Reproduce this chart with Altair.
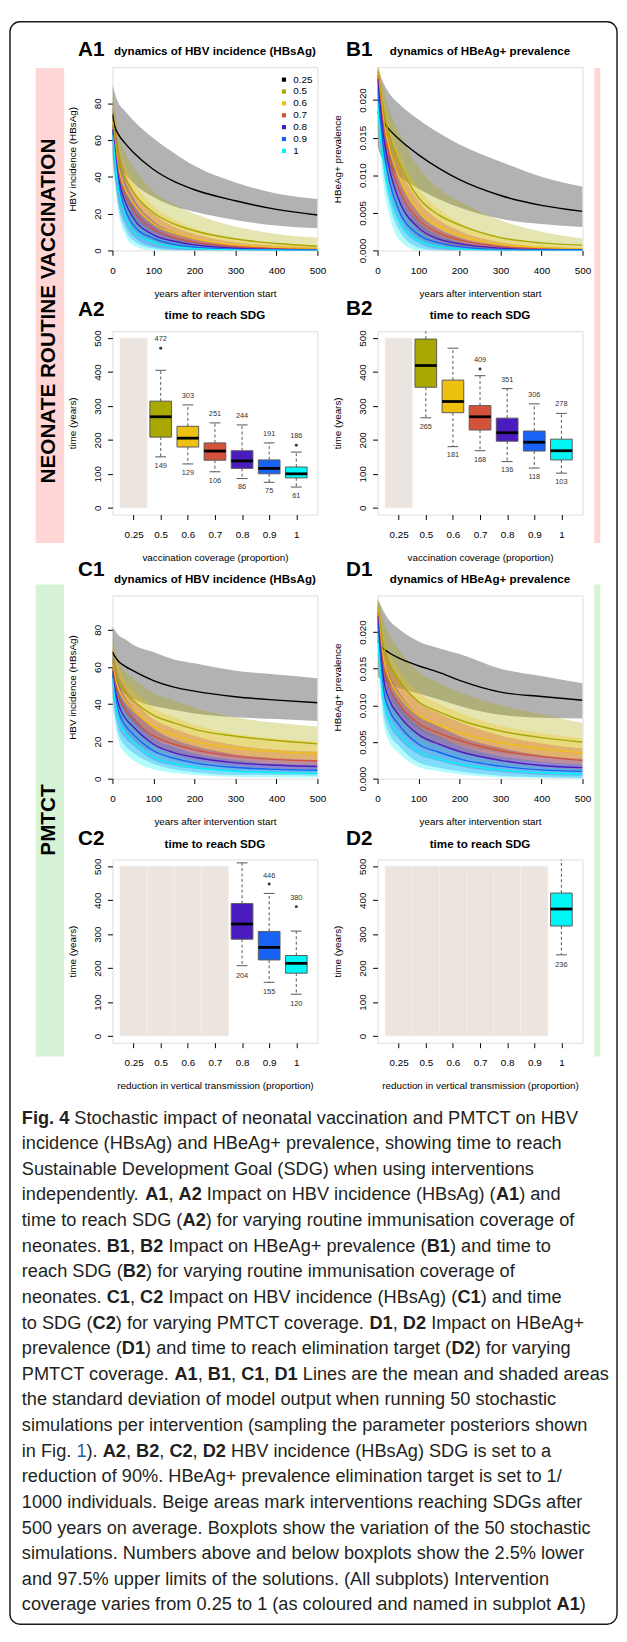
import re
import altair as alt
import pandas as pd

FONT = "Liberation Sans"
COVERAGE = ["0.25", "0.5", "0.6", "0.7", "0.8", "0.9", "1"]
COLORS = ["#000000", "#A8A800", "#EEC010", "#D5523A", "#4A1CC0", "#1862F5", "#00F5F5"]
YEARS = [0, 5, 15, 30, 50, 100, 150, 200, 300, 400, 500]

# ---------------- A1: HBV incidence, neonate vaccination ----------------
A1_MEAN = {
    "0.25": [74, 68, 63, 58.5, 53.5, 44, 37.5, 33, 27, 22.3, 19.3],
    "0.5": [71, 63, 50, 40, 32, 20.5, 14.5, 10.7, 6.2, 3.8, 2.3],
    "0.6": [70, 60, 45, 34, 26, 14.5, 9.5, 6.3, 3, 1.6, 1],
    "0.7": [68, 58, 42, 30, 22, 11.5, 7, 4.5, 2, 1, 0.5],
    "0.8": [66, 56, 39, 27, 18, 8.5, 5, 3, 1.2, 0.5, 0.3],
    "0.9": [65, 54, 36, 23, 14, 6.5, 3.3, 1.8, 0.7, 0.3, 0.15],
    "1": [63, 52, 33, 20, 11, 4.5, 2, 1, 0.3, 0.1, 0.05],
}
A1_HI = {
    "0.25": [90, 86, 80, 76, 71, 61, 53, 46, 37, 31, 28],
    "0.5": [85, 78, 64, 54, 46, 32, 25, 20, 13, 9, 7],
    "0.6": [83, 75, 59, 47, 38, 24, 17, 12, 6.5, 4, 2.8],
    "0.7": [81, 72, 56, 43, 33, 20, 13, 9, 4.5, 2.5, 1.5],
    "0.8": [79, 70, 53, 39, 29, 16, 10, 6.5, 3, 1.3, 0.8],
    "0.9": [78, 68, 50, 35, 25, 13, 7.5, 4.5, 2, 0.9, 0.5],
    "1": [76, 66, 46, 31, 20, 9, 5, 2.8, 1, 0.4, 0.2],
}
A1_LO = {
    "0.25": [60, 54, 48, 42, 37, 29, 24, 21, 16.5, 13.5, 12],
    "0.5": [58, 49, 37, 27, 19, 10, 5.5, 3, 1, 0.3, 0],
    "0.6": [57, 46, 32, 22, 15, 6, 2.5, 1, 0, 0, 0],
    "0.7": [55, 44, 29, 18, 11, 4, 1.5, 0.3, 0, 0, 0],
    "0.8": [53, 42, 26, 15, 8, 2, 0.5, 0, 0, 0, 0],
    "0.9": [52, 40, 23, 12, 5.5, 1, 0, 0, 0, 0, 0],
    "1": [50, 38, 20, 9, 3, 0, 0, 0, 0, 0, 0],
}

# ---------------- B1: HBeAg+ prevalence, neonate vaccination ----------------
B1_MEAN = {
    "0.25": [0.0185, 0.0178, 0.0170, 0.0160, 0.0149, 0.0127, 0.0109, 0.0094, 0.0073, 0.0060, 0.0052],
    "0.5": [0.0238, 0.0220, 0.0185, 0.0150, 0.0120, 0.0070, 0.0047, 0.0034, 0.0017, 0.0010, 0.0007],
    "0.6": [0.0236, 0.0214, 0.0172, 0.0133, 0.0100, 0.0052, 0.0032, 0.0020, 0.0008, 0.0004, 0.0002],
    "0.7": [0.0233, 0.0208, 0.0162, 0.0120, 0.0085, 0.0041, 0.0023, 0.0014, 0.0005, 0.0002, 0.0001],
    "0.8": [0.0228, 0.0200, 0.0150, 0.0106, 0.0070, 0.0030, 0.0015, 0.0009, 0.0003, 0.0001, 0.0001],
    "0.9": [0.0215, 0.0185, 0.0134, 0.0090, 0.0056, 0.0021, 0.0010, 0.0005, 0.0001, 0.0000, 0.0000],
    "1": [0.0197, 0.0165, 0.0115, 0.0072, 0.0042, 0.0013, 0.0005, 0.0002, 0.0000, 0.0000, 0.0000],
}
B1_HI = {
    "0.25": [0.0245, 0.0235, 0.0222, 0.0208, 0.0196, 0.0174, 0.0156, 0.0141, 0.0118, 0.0098, 0.0085],
    "0.5": [0.0245, 0.0240, 0.0215, 0.0185, 0.0160, 0.0110, 0.0082, 0.0065, 0.0040, 0.0025, 0.0016],
    "0.6": [0.0245, 0.0236, 0.0202, 0.0168, 0.0136, 0.0082, 0.0055, 0.0037, 0.0017, 0.0009, 0.0005],
    "0.7": [0.0245, 0.0232, 0.0192, 0.0154, 0.0118, 0.0066, 0.0040, 0.0026, 0.0011, 0.0005, 0.0003],
    "0.8": [0.0242, 0.0225, 0.0180, 0.0138, 0.0100, 0.0050, 0.0028, 0.0017, 0.0007, 0.0003, 0.0002],
    "0.9": [0.0235, 0.0212, 0.0164, 0.0120, 0.0083, 0.0038, 0.0020, 0.0011, 0.0003, 0.0001, 0.0001],
    "1": [0.0220, 0.0192, 0.0145, 0.0100, 0.0068, 0.0027, 0.0012, 0.0005, 0.0001, 0.0000, 0.0000],
}
B1_LO = {
    "0.25": [0.0140, 0.0130, 0.0120, 0.0110, 0.0100, 0.0082, 0.0068, 0.0057, 0.0042, 0.0035, 0.0031],
    "0.5": [0.0225, 0.0196, 0.0152, 0.0112, 0.0082, 0.0032, 0.0015, 0.0006, 0.0001, 0.0000, 0.0000],
    "0.6": [0.0222, 0.0190, 0.0142, 0.0098, 0.0064, 0.0022, 0.0009, 0.0003, 0.0000, 0.0000, 0.0000],
    "0.7": [0.0220, 0.0184, 0.0132, 0.0086, 0.0052, 0.0016, 0.0006, 0.0002, 0.0000, 0.0000, 0.0000],
    "0.8": [0.0214, 0.0175, 0.0120, 0.0074, 0.0040, 0.0010, 0.0002, 0.0000, 0.0000, 0.0000, 0.0000],
    "0.9": [0.0195, 0.0158, 0.0104, 0.0060, 0.0029, 0.0004, 0.0000, 0.0000, 0.0000, 0.0000, 0.0000],
    "1": [0.0174, 0.0138, 0.0085, 0.0044, 0.0016, 0.0000, 0.0000, 0.0000, 0.0000, 0.0000, 0.0000],
}

# ---------------- C1: HBV incidence, PMTCT ----------------
C1_MEAN = {
    "0.25": [68, 66, 63, 60.5, 58, 52.7, 49.2, 47, 44, 42.2, 40.8],
    "0.5": [64, 59, 52, 46.5, 42, 34, 30, 26.5, 22.8, 20.5, 18.7],
    "0.6": [62, 56, 48, 42, 37, 28, 23.5, 20, 16.5, 14.5, 13.5],
    "0.7": [60, 53, 44, 37.5, 32, 23, 18.5, 15.5, 12, 10.2, 9.5],
    "0.8": [58, 50, 40, 33, 28, 18.5, 14, 11.5, 8.5, 7.2, 6.5],
    "0.9": [56, 47, 36, 29, 24, 15, 11, 8.5, 6, 5, 4.5],
    "1": [54, 44, 32, 25, 20, 11.5, 8, 6, 4, 3.2, 2.8],
}
C1_HI = {
    "0.25": [82, 80, 77, 75, 72, 68, 64, 62, 58, 56, 54],
    "0.5": [76, 71, 64, 58, 54, 46, 42, 38, 33, 30, 28],
    "0.6": [74, 68, 60, 53, 48, 38, 33, 29, 24, 21.5, 20],
    "0.7": [72, 65, 56, 49, 43, 32, 27, 23, 18, 15.5, 14.5],
    "0.8": [70, 62, 52, 44, 38, 27, 21, 17.5, 13, 11, 10],
    "0.9": [68, 59, 48, 40, 34, 22, 17, 13.5, 10, 8, 7.5],
    "1": [66, 56, 44, 36, 30, 18, 13, 10, 7, 5.5, 5],
}
C1_LO = {
    "0.25": [54, 52, 49, 46, 43, 39, 37, 35, 33, 32, 31],
    "0.5": [52, 47, 40, 35, 30, 22, 18, 15.5, 12.5, 11, 10],
    "0.6": [50, 44, 36, 31, 26, 18, 14, 11.5, 9, 7.5, 7],
    "0.7": [48, 41, 32, 26, 21, 14, 10, 8, 6, 5, 4.5],
    "0.8": [46, 38, 28, 22, 18, 10, 7, 5.5, 4, 3.4, 3],
    "0.9": [44, 35, 24, 18, 14, 8, 5, 3.5, 2, 2, 1.5],
    "1": [42, 32, 20, 14, 10, 5, 3, 2, 1, 0.8, 0.6],
}

# ---------------- D1: HBeAg+ prevalence, PMTCT ----------------
D1_MEAN = {
    "0.25": [0.0188, 0.0183, 0.0177, 0.0171, 0.0165, 0.0154, 0.0145, 0.0134, 0.0118, 0.0112, 0.0107],
    "0.5": [0.0235, 0.0215, 0.0180, 0.0155, 0.0136, 0.0105, 0.0091, 0.0080, 0.0065, 0.0056, 0.0050],
    "0.6": [0.0232, 0.0205, 0.0162, 0.0135, 0.0115, 0.0086, 0.0073, 0.0063, 0.0049, 0.0041, 0.0035],
    "0.7": [0.0228, 0.0198, 0.0150, 0.0123, 0.0104, 0.0075, 0.0062, 0.0052, 0.0038, 0.0030, 0.0025],
    "0.8": [0.0222, 0.0188, 0.0135, 0.0106, 0.0088, 0.0060, 0.0047, 0.0037, 0.0025, 0.0018, 0.0015],
    "0.9": [0.0212, 0.0175, 0.0120, 0.0092, 0.0075, 0.0047, 0.0036, 0.0027, 0.0017, 0.0012, 0.0010],
    "1": [0.0195, 0.0160, 0.0105, 0.0078, 0.0062, 0.0037, 0.0027, 0.0020, 0.0012, 0.0008, 0.0006],
}
D1_HI = {
    "0.25": [0.0245, 0.0240, 0.0228, 0.0215, 0.0205, 0.0187, 0.0178, 0.0170, 0.0150, 0.0140, 0.0130],
    "0.5": [0.0245, 0.0238, 0.0215, 0.0195, 0.0178, 0.0146, 0.0130, 0.0118, 0.0100, 0.0088, 0.0076],
    "0.6": [0.0245, 0.0230, 0.0195, 0.0170, 0.0150, 0.0118, 0.0102, 0.0090, 0.0072, 0.0062, 0.0055],
    "0.7": [0.0243, 0.0225, 0.0185, 0.0158, 0.0138, 0.0105, 0.0089, 0.0077, 0.0059, 0.0048, 0.0041],
    "0.8": [0.0240, 0.0215, 0.0168, 0.0140, 0.0120, 0.0087, 0.0071, 0.0058, 0.0042, 0.0032, 0.0027],
    "0.9": [0.0232, 0.0203, 0.0152, 0.0124, 0.0104, 0.0072, 0.0057, 0.0045, 0.0031, 0.0023, 0.0019],
    "1": [0.0218, 0.0188, 0.0136, 0.0107, 0.0088, 0.0058, 0.0045, 0.0035, 0.0023, 0.0016, 0.0013],
}
D1_LO = {
    "0.25": [0.0140, 0.0137, 0.0133, 0.0128, 0.0124, 0.0116, 0.0108, 0.0099, 0.0087, 0.0083, 0.0082],
    "0.5": [0.0222, 0.0190, 0.0145, 0.0115, 0.0095, 0.0067, 0.0055, 0.0046, 0.0035, 0.0030, 0.0027],
    "0.6": [0.0218, 0.0180, 0.0130, 0.0100, 0.0080, 0.0055, 0.0045, 0.0037, 0.0027, 0.0022, 0.0018],
    "0.7": [0.0213, 0.0171, 0.0115, 0.0088, 0.0070, 0.0045, 0.0035, 0.0028, 0.0018, 0.0013, 0.0010],
    "0.8": [0.0204, 0.0161, 0.0102, 0.0072, 0.0056, 0.0033, 0.0024, 0.0017, 0.0009, 0.0005, 0.0004],
    "0.9": [0.0192, 0.0147, 0.0088, 0.0060, 0.0046, 0.0022, 0.0015, 0.0010, 0.0004, 0.0002, 0.0001],
    "1": [0.0172, 0.0132, 0.0074, 0.0049, 0.0036, 0.0016, 0.0010, 0.0006, 0.0002, 0.0001, 0.0000],
}

# ---------------- Boxplots: time to reach SDG (years) ----------------
A2_COV = ["0.5", "0.6", "0.7", "0.8", "0.9", "1"]
A2_Q1 = [208, 179, 140, 116, 100, 88]
A2_MED = [268, 205, 167, 138, 116, 100]
A2_Q3 = [314, 240, 191, 168, 141, 120]
A2_WLO = [150, 129, 106, 86, 75, 61]
A2_WHI = [405, 303, 250, 244, 191, 164]
A2_TOP = [472, 303, 251, 244, 191, 186]
A2_BOT = [149, 129, 106, 86, 75, 61]
A2_OUT_COV = ["0.5", "1"]
A2_OUT_VAL = [470, 184]
A2_BEIGE = ["0.25"]

B2_COV = ["0.5", "0.6", "0.7", "0.8", "0.9", "1"]
B2_Q1 = [355, 280, 229, 196, 167, 141]
B2_MED = [419, 313, 268, 221, 193, 168]
B2_Q3 = [497, 376, 301, 264, 226, 202]
B2_WLO = [265, 180, 168, 136, 117, 102]
B2_WHI = [560, 470, 389, 351, 306, 278]
B2_TOP = [None, None, 409, 351, 306, 278]
B2_BOT = [265, 181, 168, 136, 118, 103]
B2_OUT_COV = ["0.7"]
B2_OUT_VAL = [409]
B2_BEIGE = ["0.25"]

C2_COV = ["0.8", "0.9", "1"]
C2_Q1 = [285, 224, 185]
C2_MED = [330, 261, 214]
C2_Q3 = [390, 308, 237]
C2_WLO = [207, 158, 123]
C2_WHI = [510, 420, 309]
C2_TOP = [None, 446, 380]
C2_BOT = [204, 155, 120]
C2_OUT_COV = ["0.9", "1"]
C2_OUT_VAL = [448, 381]
C2_BEIGE = ["0.25", "0.5", "0.6", "0.7"]

D2_COV = ["1"]
D2_Q1 = [324]
D2_MED = [374]
D2_Q3 = [421]
D2_WLO = [239]
D2_WHI = [560]
D2_TOP = [None]
D2_BOT = [236]
D2_OUT_COV = []
D2_OUT_VAL = []
D2_BEIGE = ["0.25", "0.5", "0.6", "0.7", "0.8", "0.9"]

SDG_HORIZON = 500

CAPTION = [
    "**Fig. 4** Stochastic impact of neonatal vaccination and PMTCT on HBV",
    "incidence (HBsAg) and HBeAg+ prevalence, showing time to reach",
    "Sustainable Development Goal (SDG) when using interventions",
    "independently. **A1**, **A2** Impact on HBV incidence (HBsAg) (**A1**) and",
    "time to reach SDG (**A2**) for varying routine immunisation coverage of",
    "neonates. **B1**, **B2** Impact on HBeAg+ prevalence (**B1**) and time to",
    "reach SDG (**B2**) for varying routine immunisation coverage of",
    "neonates. **C1**, **C2** Impact on HBV incidence (HBsAg) (**C1**) and time",
    "to SDG (**C2**) for varying PMTCT coverage. **D1**, **D2** Impact on HBeAg+",
    "prevalence (**D1**) and time to reach elimination target (**D2**) for varying",
    "PMTCT coverage. **A1**, **B1**, **C1**, **D1** Lines are the mean and shaded areas",
    "the standard deviation of model output when running 50 stochastic",
    "simulations per intervention (sampling the parameter posteriors shown",
    "in Fig. ##1##). **A2**, **B2**, **C2**, **D2** HBV incidence (HBsAg) SDG is set to a",
    "reduction of 90%. HBeAg+ prevalence elimination target is set to 1/",
    "1000 individuals. Beige areas mark interventions reaching SDGs after",
    "500 years on average. Boxplots show the variation of the 50 stochastic",
    "simulations. Numbers above and below boxplots show the 2.5% lower",
    "and 97.5% upper limits of the solutions. (All subplots) Intervention",
    "coverage varies from 0.25 to 1 (as coloured and named in subplot **A1**)",
]

# ---------------- layout helpers ----------------
W, H = 208, 186
CSCALE = alt.Scale(domain=COVERAGE, range=COLORS)
ONE = alt.Data(values=[{"k": 1}])
BEIGE = "#ECE4DE"

AX = dict(domain=False, grid=False, ticks=True, tickSize=5, tickColor="black", tickWidth=1,
          labelFont=FONT, labelFontSize=10, labelColor="black", titleFont=FONT, titleFontSize=10,
          titleFontWeight="normal", titleColor="black", labelOverlap=False, labelFlush=False)


def x_axis(values, title, label_expr=None, title_y=44):
    kw = dict(AX, values=values, title=title, labelAngle=0, labelAlign="center", labelBaseline="top",
              labelPadding=10, titleX=W / 2, titleY=title_y, titleAlign="center",
              titleBaseline="middle", titleAngle=0)
    if label_expr:
        kw["labelExpr"] = label_expr
    return alt.Axis(**kw)


def y_axis(values, title, fmt=None):
    kw = dict(AX, values=values, title=title, labelAngle=270, labelAlign="center",
              labelBaseline="bottom", labelPadding=5, titleAngle=270, titleX=-41, titleY=H / 2,
              titleAlign="center", titleBaseline="middle")
    if fmt:
        kw["format"] = fmt
    return alt.Axis(**kw)


def deco_rect(x, x2, y, y2, **mk):
    return alt.Chart(ONE).mark_rect(**mk).encode(
        x=alt.value(x), x2=alt.value(x2), y=alt.value(y), y2=alt.value(y2))


def deco_text(txt, x, y, **mk):
    return alt.Chart(ONE).mark_text(**mk).encode(x=alt.value(x), y=alt.value(y), text=alt.value(txt))


def heads(letter, title, lx, ly, ty):
    return [
        deco_text(letter, lx, ly, fontSize=21, fontWeight="bold", align="left",
                  baseline="alphabetic", font=FONT, color="black"),
        deco_text(title, W / 2, ty, fontSize=11.8, fontWeight="bold", align="center",
                  baseline="alphabetic", font=FONT, color="black"),
    ]


def ts_layers(mean, lo, hi, ymax, yvals, yfmt, ytitle):
    rows = []
    for c in COVERAGE:
        for i, yr in enumerate(YEARS):
            rows.append(dict(year=yr, cov=c, mean=mean[c][i], lo=lo[c][i], hi=hi[c][i]))
    df = pd.DataFrame(rows)
    xax = x_axis([0, 100, 200, 300, 400, 500], "years after intervention start")
    X = alt.X("year:Q", scale=alt.Scale(domain=[0, 500], nice=False, zero=False), axis=xax)
    ysc = alt.Scale(domain=[0, ymax], nice=False, zero=False)
    yax = y_axis(yvals, ytitle, yfmt)
    base = alt.Chart(df)
    bands = base.mark_area(opacity=0.3, clip=True, interpolate="monotone").encode(
        x=X, y=alt.Y("lo:Q", scale=ysc, axis=yax, stack=None), y2="hi:Q",
        fill=alt.Fill("cov:N", scale=CSCALE, legend=None))
    lines = base.mark_line(strokeWidth=1.4, clip=True, interpolate="monotone").encode(
        x=X, y=alt.Y("mean:Q", scale=ysc, axis=yax),
        color=alt.Color("cov:N", scale=CSCALE, legend=None))
    return [bands, lines], ysc, yax


def box_layers(cov, q1, med, q3, wlo, whi, top, bot, out_cov, out_val, beige, xtitle, title_y):
    lab = "['0.25','0.5','0.6','0.7','0.8','0.9','1'][datum.value-1]"
    xax = x_axis([1, 2, 3, 4, 5, 6, 7], xtitle, label_expr=lab, title_y=title_y)
    xsc = alt.Scale(domain=[0.22, 7.78], nice=False, zero=False)
    ysc = alt.Scale(domain=[-20, 520], nice=False, zero=False)
    yax = y_axis([0, 100, 200, 300, 400, 500], "time (years)")

    def X(f):
        return alt.X(f, scale=xsc, axis=xax)

    def Y(f):
        return alt.Y(f, scale=ysc, axis=yax)

    df = pd.DataFrame(dict(cov=cov, q1=q1, med=med, q3=q3, wlo=wlo, whi=whi, top=top, bot=bot))
    df["pos"] = [COVERAGE.index(c) + 1 for c in cov]
    bdf = pd.DataFrame(dict(cov=beige))
    bdf["pos"] = [COVERAGE.index(c) + 1 for c in beige]
    odf = pd.DataFrame(dict(cov=out_cov, val=out_val))
    odf["pos"] = [COVERAGE.index(c) + 1 for c in out_cov]

    base = alt.Chart(df).transform_calculate(
        xl="datum.pos - 0.4", xr="datum.pos + 0.4", sl="datum.pos - 0.2", sr="datum.pos + 0.2")
    layers = []
    layers.append(alt.Chart(bdf).transform_calculate(
        bl="datum.pos - 0.5", br="datum.pos + 0.5", y0="0", y1=str(SDG_HORIZON)
    ).mark_rect(color=BEIGE, stroke="#F4EFEB", strokeWidth=0.8).encode(
        x=X("bl:Q"), x2="br:Q", y=Y("y0:Q"), y2="y1:Q"))
    dash = dict(strokeDash=[3, 2.5], color="#555", strokeWidth=1, clip=True)
    layers.append(base.mark_rule(**dash).encode(x=X("pos:Q"), y=Y("q3:Q"), y2="whi:Q"))
    layers.append(base.mark_rule(**dash).encode(x=X("pos:Q"), y=Y("q1:Q"), y2="wlo:Q"))
    layers.append(base.mark_rule(color="#555", strokeWidth=1, clip=True).encode(
        x=X("sl:Q"), x2="sr:Q", y=Y("whi:Q")))
    layers.append(base.mark_rule(color="#555", strokeWidth=1, clip=True).encode(
        x=X("sl:Q"), x2="sr:Q", y=Y("wlo:Q")))
    layers.append(base.mark_rect(stroke="#5a5a5a", strokeWidth=1).encode(
        x=X("xl:Q"), x2="xr:Q", y=Y("q1:Q"), y2="q3:Q",
        fill=alt.Fill("cov:N", scale=CSCALE, legend=None)))
    layers.append(base.mark_rule(color="black", strokeWidth=2.8).encode(
        x=X("xl:Q"), x2="xr:Q", y=Y("med:Q")))
    if len(odf):
        layers.append(alt.Chart(odf).mark_circle(size=9, color="#333", opacity=1).encode(
            x=X("pos:Q"), y=Y("val:Q")))
    txt = dict(fontSize=7.5, color="#333", font=FONT, baseline="middle", align="center")
    layers.append(base.transform_filter("isValid(datum.top)").mark_text(dy=-9, **txt).encode(
        x=X("pos:Q"), y=Y("top:Q"), text=alt.Text("top:Q", format="d")))
    layers.append(base.transform_filter("isValid(datum.bot)").mark_text(dy=9, **txt).encode(
        x=X("pos:Q"), y=Y("bot:Q"), text=alt.Text("bot:Q", format="d")))
    return layers


# ---------------- frame and side bands (decoration, drawn in A1 cell) ----------------
PINK, GREEN = "#FFD6D6", "#D6F3D6"
deco = [
    deco_rect(-78, -49, 1, 483, color=PINK),
    deco_rect(-78, -49, 525, 1004, color=GREEN),
    deco_rect(489, 495, 1, 483, color=PINK),
    deco_rect(489, 495, 525, 1004, color=GREEN),
    deco_text("NEONATE ROUTINE VACCINATION", -58.7, 247.5, angle=270, fontSize=21,
              fontWeight="bold", align="center", baseline="alphabetic", font=FONT, color="black"),
    deco_text("PMTCT", -58.7, 764, angle=270, fontSize=21, fontWeight="bold", align="center",
              baseline="alphabetic", font=FONT, color="black"),
    deco_rect(-104, 512, -46, 1580, fill="transparent", stroke="#1a1a1a", strokeWidth=1.5,
              cornerRadius=10),
]

# ---------------- panels ----------------
a1_layers, a1_ysc, a1_yax = ts_layers(A1_MEAN, A1_LO, A1_HI, 99.7, [0, 20, 40, 60, 80], None,
                                      "HBV incidence (HBsAg)")
LEG_TOP, LEG_STEP, A1_YMAX = 12.7, 12.05, 99.7
leg_df = pd.DataFrame({"cov": COVERAGE, "row": list(range(len(COVERAGE)))})
leg_base = alt.Chart(leg_df).transform_calculate(
    ly=f"{A1_YMAX} * (1 - ({LEG_TOP} + {LEG_STEP} * datum.row) / {H})")
leg_pts = leg_base.mark_square(size=18, opacity=1).encode(
    x=alt.value(174), y=alt.Y("ly:Q", scale=a1_ysc, axis=a1_yax),
    color=alt.Color("cov:N", scale=CSCALE, legend=None))
leg_txt = leg_base.mark_text(align="left", baseline="middle", fontSize=10, font=FONT,
                             color="black").encode(
    x=alt.value(183.5), y=alt.Y("ly:Q", scale=a1_ysc, axis=a1_yax), text="cov:N")

A1 = alt.layer(*deco, *heads("A1", "dynamics of HBV incidence (HBsAg)", -35, -11.3, -12),
               *a1_layers, leg_pts, leg_txt).properties(width=W, height=H)

b1_layers, _, _ = ts_layers(B1_MEAN, B1_LO, B1_HI, 0.02437, [0, 0.005, 0.010, 0.015, 0.020], ".3f",
                            "HBeAg+ prevalence")
B1 = alt.layer(*heads("B1", "dynamics of HBeAg+ prevalence", -32, -11.3, -12),
               *b1_layers).properties(width=W, height=H)

A2 = alt.layer(*heads("A2", "time to reach SDG", -35, -15.3, -12),
               *box_layers(A2_COV, A2_Q1, A2_MED, A2_Q3, A2_WLO, A2_WHI, A2_TOP, A2_BOT,
                           A2_OUT_COV, A2_OUT_VAL, A2_BEIGE,
                           "vaccination coverage (proportion)", 44)).properties(width=W, height=H)
B2 = alt.layer(*heads("B2", "time to reach SDG", -32, -16, -12),
               *box_layers(B2_COV, B2_Q1, B2_MED, B2_Q3, B2_WLO, B2_WHI, B2_TOP, B2_BOT,
                           B2_OUT_COV, B2_OUT_VAL, B2_BEIGE,
                           "vaccination coverage (proportion)", 44)).properties(width=W, height=H)

c1_layers, _, _ = ts_layers(C1_MEAN, C1_LO, C1_HI, 98.5, [0, 20, 40, 60, 80], None,
                            "HBV incidence (HBsAg)")
C1 = alt.layer(*heads("C1", "dynamics of HBV incidence (HBsAg)", -35, -20, -12.5),
               *c1_layers).properties(width=W, height=H)
d1_layers, _, _ = ts_layers(D1_MEAN, D1_LO, D1_HI, 0.0250, [0, 0.005, 0.010, 0.015, 0.020], ".3f",
                            "HBeAg+ prevalence")
D1 = alt.layer(*heads("D1", "dynamics of HBeAg+ prevalence", -32, -20, -12.5),
               *d1_layers).properties(width=W, height=H)

C2 = alt.layer(*heads("C2", "time to reach SDG", -35, -15, -12),
               *box_layers(C2_COV, C2_Q1, C2_MED, C2_Q3, C2_WLO, C2_WHI, C2_TOP, C2_BOT,
                           C2_OUT_COV, C2_OUT_VAL, C2_BEIGE,
                           "reduction in vertical transmission (proportion)", 43)
               ).properties(width=W, height=H)
D2 = alt.layer(*heads("D2", "time to reach SDG", -32, -15, -12),
               *box_layers(D2_COV, D2_Q1, D2_MED, D2_Q3, D2_WLO, D2_WHI, D2_TOP, D2_BOT,
                           D2_OUT_COV, D2_OUT_VAL, D2_BEIGE,
                           "reduction in vertical transmission (proportion)", 43)
               ).properties(width=W, height=H)

# ---------------- caption ----------------
REGW = {' ': 278, '!': 278, '"': 355, '#': 556, '$': 556, '%': 889, '&': 667, "'": 191, '(': 333,
        ')': 333, '*': 389, '+': 584, ',': 278, '-': 333, '.': 278, '/': 278, ':': 278, ';': 278,
        '?': 556, 'A': 667, 'B': 667, 'C': 722, 'D': 722, 'E': 667, 'F': 611, 'G': 778, 'H': 722,
        'I': 278, 'J': 500, 'K': 667, 'L': 556, 'M': 833, 'N': 722, 'O': 778, 'P': 667, 'Q': 778,
        'R': 722, 'S': 667, 'T': 611, 'U': 722, 'V': 667, 'W': 944, 'X': 667, 'Y': 667, 'Z': 611,
        'a': 556, 'b': 556, 'c': 500, 'd': 556, 'e': 556, 'f': 278, 'g': 556, 'h': 556, 'i': 222,
        'j': 222, 'k': 500, 'l': 222, 'm': 833, 'n': 556, 'o': 556, 'p': 556, 'q': 556, 'r': 333,
        's': 500, 't': 278, 'u': 556, 'v': 500, 'w': 722, 'x': 500, 'y': 500, 'z': 500}
BOLDW = {' ': 278, ',': 278, '.': 278, '(': 333, ')': 333, 'A': 722, 'B': 722, 'C': 722,
         'D': 722, 'F': 611, 'i': 278, 'g': 611}


def em_width(s, bold):
    table = BOLDW if bold else REGW
    return sum(table.get(ch, 556) for ch in s) / 1000.0


def parse_line(line):
    out = []
    for part in re.split(r"(\*\*.*?\*\*|##.*?##)", line):
        if not part:
            continue
        kind = "r"
        if part.startswith("**"):
            kind, part = "b", part[2:-2]
        elif part.startswith("##"):
            kind, part = "l", part[2:-2]
        out.append((kind, part))
    return out


PARSED = [parse_line(line) for line in CAPTION]
MAX_EM = max(sum(em_width(p, k == "b") for k, p in segs) for segs in PARSED)
CAP_X0, CAP_X1 = 21, 617          # page x range available for the caption
CAP_FS = min(19.5, (CAP_X1 - CAP_X0) / MAX_EM)
CAP_X = CAP_X0 - 113              # relative to caption cell origin
CAP_Y = 0.0                       # baseline of first line (page y 1126)
CAP_LH = 26.0

cap_rows = []
for i, segs in enumerate(PARSED):
    x = 0.0
    for kind, part in segs:
        bold = kind == "b"
        lead = len(part) - len(part.lstrip(" "))
        xs = x + em_width(part[:lead], bold)
        if part.strip():
            cap_rows.append(dict(t=part.strip(" "), px=CAP_X + xs * CAP_FS,
                                 py=CAP_Y + i * CAP_LH, w="bold" if bold else "normal",
                                 c="#2B5AA8" if kind == "l" else "#231F20"))
        x += em_width(part, bold)
cap_df = pd.DataFrame(cap_rows)
cap_base = alt.Chart(cap_df)
cap_enc = dict(x=alt.X("px:Q", scale=None), y=alt.Y("py:Q", scale=None), text="t:N",
               color=alt.Color("c:N", scale=None))
cap_reg = cap_base.transform_filter("datum.w == 'normal'").mark_text(
    align="left", baseline="alphabetic", fontSize=CAP_FS, font=FONT).encode(**cap_enc)
cap_bold = cap_base.transform_filter("datum.w == 'bold'").mark_text(
    align="left", baseline="alphabetic", fontSize=CAP_FS, font=FONT, fontWeight="bold"
).encode(**cap_enc)
CAP = alt.layer(cap_reg, cap_bold).properties(
    width=W, height=1, view=alt.ViewBackground(stroke="transparent"))

chart = alt.concat(A1, B1, A2, B2, C1, D1, C2, D2, CAP, columns=2,
                   spacing={"row": 82, "column": 61}, bounds="flush").properties(
    padding=0, background="white"
).configure_view(stroke="black", strokeWidth=1).configure(font=FONT)

chart.save("out.html", embed_options={"renderer": "svg", "actions": False})
